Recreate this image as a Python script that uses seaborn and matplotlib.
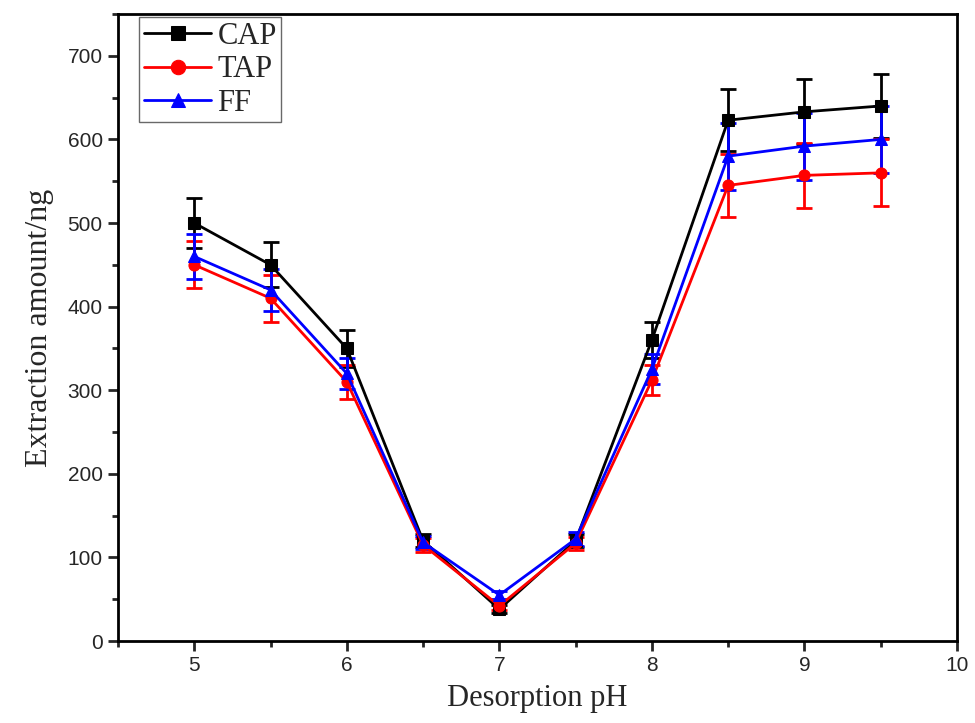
import numpy as np
import pandas as pd
import seaborn as sns
import matplotlib.pyplot as plt
from matplotlib.ticker import MultipleLocator

sns.set_style("white")

# data
ph = [5, 5.5, 6, 6.5, 7, 7.5, 8, 8.5, 9, 9.5]
cap = [500, 450, 350, 120, 38, 120, 360, 623, 633, 640]
tap = [450, 410, 310, 115, 42, 117, 312, 545, 557, 560]
ff = [460, 420, 320, 118, 55, 122, 325, 580, 592, 600]
cap_err = [30, 27, 22, 8, 5, 8, 22, 37, 39, 38]
tap_err = [28, 28, 20, 8, 5, 8, 18, 38, 39, 40]
ff_err = [27, 25, 18, 8, 5, 8, 18, 40, 40, 40]

names = ["CAP", "TAP", "FF"]
colors = ["black", "red", "blue"]
marks = ["s", "o", "^"]

df = pd.DataFrame({
    "pH": ph * 3,
    "amount": cap + tap + ff,
    "err": cap_err + tap_err + ff_err,
    "series": [n for n in names for _ in ph],
})

fig = plt.figure(figsize=(9.75, 7.23), dpi=100)
ax = fig.add_axes([0.121, 0.1134, 0.8605, 0.8672])

for name, c, m in zip(names, colors, marks):
    d = df[df["series"] == name]
    ax.errorbar(d["pH"], d["amount"], yerr=d["err"], fmt="none",
                ecolor=c, elinewidth=2, capsize=6, capthick=2, zorder=2)
    sns.lineplot(data=d, x="pH", y="amount", color=c, marker=m,
                 markersize=8, markeredgecolor=c, linewidth=2,
                 label=name, ax=ax, zorder=3)

ax.set_xlim(4.5, 10)
ax.set_ylim(0, 750)
ax.xaxis.set_major_locator(MultipleLocator(1))
ax.xaxis.set_minor_locator(MultipleLocator(0.5))
ax.yaxis.set_major_locator(MultipleLocator(100))
ax.yaxis.set_minor_locator(MultipleLocator(50))
ax.tick_params(which="major", direction="out", length=7, width=2,
               left=True, bottom=True, labelsize=15, pad=4)
ax.tick_params(which="minor", direction="out", length=4, width=2,
               left=True, bottom=True)
for lab in ax.get_xticklabels() + ax.get_yticklabels():
    lab.set_family("Liberation Sans")
for s in ax.spines.values():
    s.set_linewidth(2)
    s.set_color("black")

ax.set_xlabel("Desorption pH", family="Liberation Serif", fontsize=22, labelpad=6)
ax.set_ylabel("Extraction amount/ng", family="Liberation Serif", fontsize=23, labelpad=10)

leg = ax.legend(loc="upper left", bbox_to_anchor=(0.022, 1.0), fancybox=False,
                framealpha=1, edgecolor="dimgray", handlelength=2.2,
                prop={"family": "Liberation Serif", "size": 22},
                borderpad=0.15, labelspacing=0.15, handletextpad=0.2,
                borderaxespad=0.1, markerscale=1.3)
leg.get_frame().set_linewidth(1)

fig.savefig("out.png", dpi=100)
